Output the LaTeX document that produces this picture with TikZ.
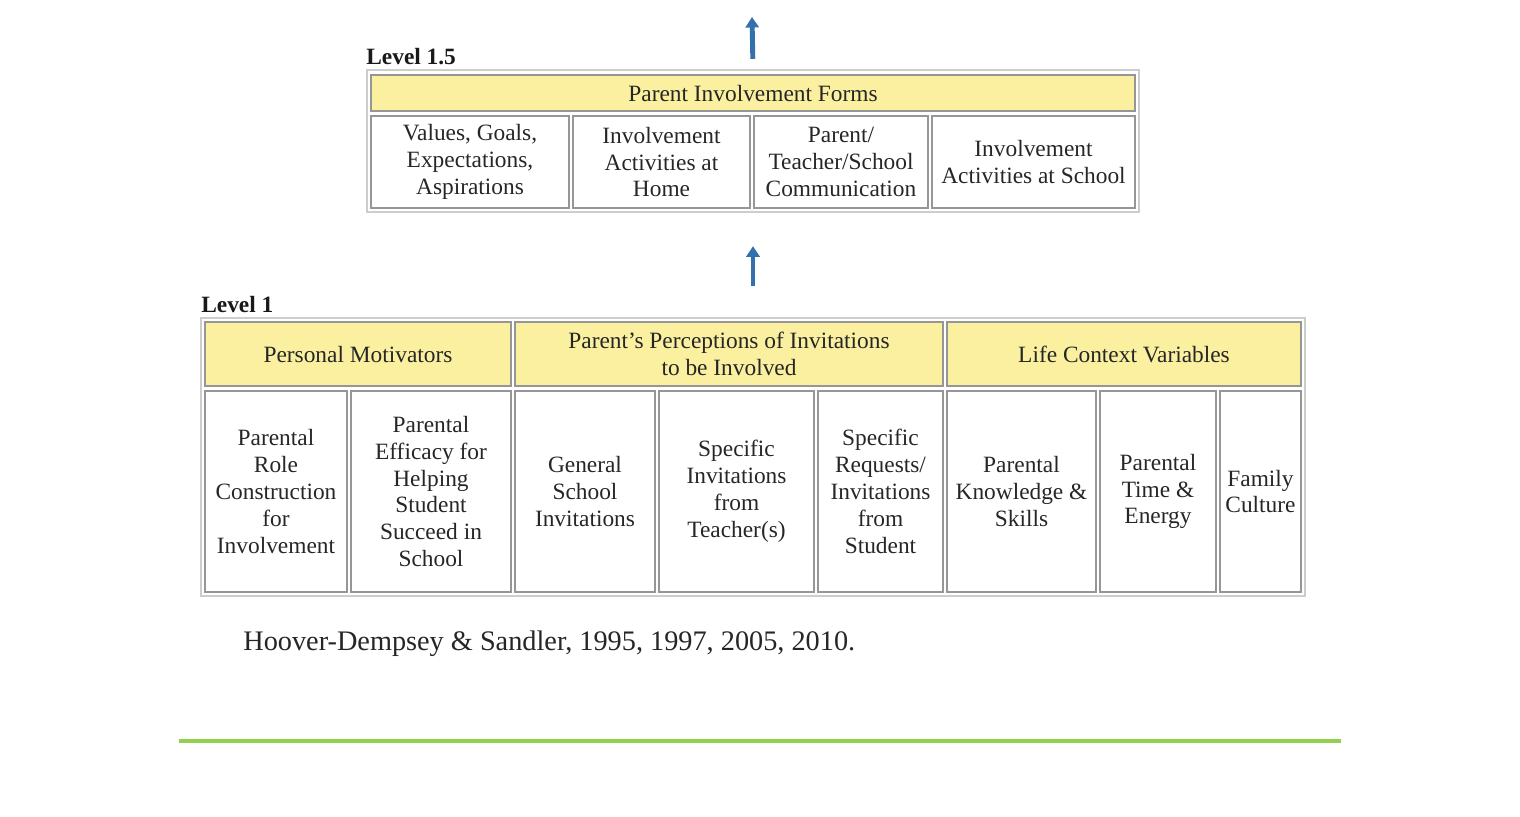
\documentclass[tikz,border=0pt]{standalone}
\usepackage{fontspec}
\setmainfont{Liberation Serif}
\definecolor{hdyellow}{RGB}{250,240,160}
\definecolor{hdgrid}{RGB}{150,150,150}
\definecolor{hdframe}{RGB}{205,205,205}
\definecolor{hdblue}{RGB}{52,112,172}
\definecolor{hdgreen}{RGB}{146,208,80}
\usetikzlibrary{arrows.meta}

\begin{document}
\begin{tikzpicture}[x=0.02cm, y=-0.02cm,
  cellsize/.style 2 args={minimum width=#1*0.02cm, minimum height=#2*0.02cm},
  cellbox/.style={draw=hdgrid, line width=0.9pt, inner sep=0pt, align=center, text=black!85, font=\fontsize{13.3}{15.3}\selectfont},
  headbox/.style={cellbox, fill=hdyellow},
  tablebox/.style={draw=hdframe, line width=1.4pt, inner sep=0pt},
  levellabel/.style={anchor=base west, inner sep=0pt, text=black!90, font=\fontsize{13.3}{15.3}\selectfont\bfseries},
  uparrow/.style={-{Triangle[width=7.5pt,length=6pt]}, hdblue, line width=2.8pt}]
\useasboundingbox (0,0) rectangle (1520,816);
% Level 1.5
\node[levellabel] (lblmid) at (366,64) {Level 1.5};
\node[tablebox, cellsize={772}{142}] (lvlmid) at (753,141) {};
\node[headbox, cellsize={764}{36}] (forms) at (753,93) {Parent Involvement Forms};
\node[cellbox, cellsize={198}{92}] (values) at (470,162) {Values, Goals,\\Expectations,\\Aspirations};
\node[cellbox, cellsize={177}{92}] (athome) at (661.5,162) {Involvement\\Activities at\\Home};
\node[cellbox, cellsize={174}{92}] (commun) at (841,162) {Parent/\\Teacher/School\\Communication};
\node[cellbox, cellsize={203}{92}] (atschool) at (1033.5,162) {Involvement\\Activities at School};
% Level 1
\node[levellabel] (lblone) at (201,312) {Level 1};
\node[tablebox, cellsize={1104}{278}] (lvlone) at (753,457) {};
\node[headbox, cellsize={306}{64}] (motiv) at (358,354) {Personal Motivators};
\node[headbox, cellsize={428}{64}] (percep) at (729,354) {Parent’s Perceptions of Invitations\\to be Involved};
\node[headbox, cellsize={354}{64}] (lifectx) at (1124,354) {Life Context Variables};
\node[cellbox, cellsize={142}{201}] (role) at (276,491.5) {Parental\\Role\\Construction\\for\\Involvement};
\node[cellbox, cellsize={160}{201}] (efficacy) at (431,491.5) {Parental\\Efficacy for\\Helping\\Student\\Succeed in\\School};
\node[cellbox, cellsize={140}{201}] (general) at (585,491.5) {General\\School\\Invitations};
\node[cellbox, cellsize={155}{201}] (teacher) at (736.5,491.5) {Specific\\Invitations\\from\\Teacher(s)};
\node[cellbox, cellsize={125}{201}] (student) at (880.5,491.5) {Specific\\Requests/\\Invitations\\from\\Student};
\node[cellbox, cellsize={149}{201}] (knowl) at (1021.5,491.5) {Parental\\Knowledge \&\\Skills};
\node[cellbox, cellsize={116}{201}] (energy) at (1158,491.5) {Parental\\Time \&\\Energy};
\node[cellbox, cellsize={81}{201}] (culture) at (1260.5,491.5) {Family\\Culture};
% Arrows
\coordinate (top) at (752,17);
\draw[uparrow, shorten <=0.2cm] (lvlmid.north) -- (top);
\draw[uparrow, shorten <=0.62cm, shorten >=0.66cm] (lvlone.north) -- (lvlmid.south);
% Source
\node[anchor=base west, inner sep=0pt, text=black!85, font=\fontsize{16.1}{19}\selectfont] (source) at (243,650) {Hoover-Dempsey \& Sandler, 1995, 1997, 2005, 2010.};
\draw[hdgreen, line width=1.8pt] (179,741) -- (1341,741);
\end{tikzpicture}
\end{document}
